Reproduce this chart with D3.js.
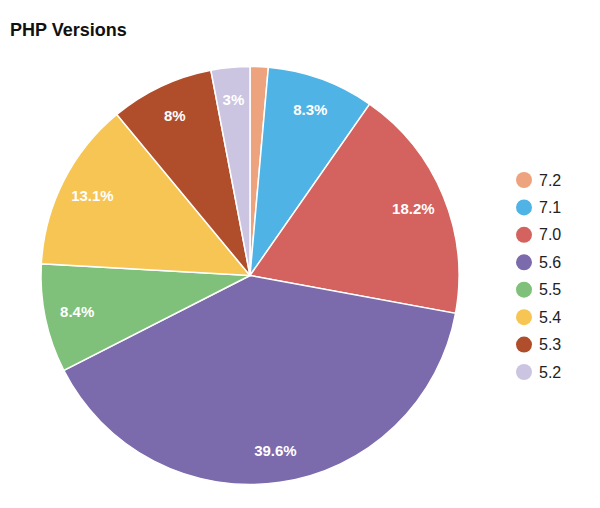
<!DOCTYPE html>
<html><head><meta charset="utf-8">
<script src="https://cdn.jsdelivr.net/npm/d3@7"></script>
<style>body{margin:0;background:#fff;font-family:"Helvetica Neue",Helvetica,Arial,"Liberation Sans",sans-serif;}</style>
</head><body>
<svg id="c" width="600" height="508"></svg>
<script>
const categories = ["7.2","7.1","7.0","5.6","5.5","5.4","5.3","5.2"];
const values = [1.4, 8.3, 18.2, 39.6, 8.4, 13.1, 8, 3];
const labels = ["", "8.3%", "18.2%", "39.6%", "8.4%", "13.1%", "8%", "3%"];
const colors = ["#eda47e","#4fb3e6","#d4625e","#7b6aac","#7fc17a","#f6c553","#b04e2b","#cbc5e1"];

const svg = d3.select("#c");
const font = '"Liberation Sans", Arial, sans-serif';
svg.append("text").attr("x", 10).attr("y", 36).text("PHP Versions")
  .attr("font-family", font).attr("font-weight", "bold").attr("font-size", 18).attr("fill", "#111");

const cx = 250, cy = 275.5, r = 209;
const data = categories.map((c, i) => ({c, v: values[i], l: labels[i], col: colors[i]}));
const pie = d3.pie().value(d => d.v).sort(null);
const arc = d3.arc().innerRadius(0).outerRadius(r);
const labelArc = d3.arc().innerRadius(r * 0.845).outerRadius(r * 0.845);
const g = svg.append("g").attr("transform", `translate(${cx},${cy})`);
const arcs = pie(data);
g.selectAll("path").data(arcs).join("path")
  .attr("d", arc).attr("fill", d => d.data.col)
  .attr("stroke", "#fff").attr("stroke-width", 1.5);
g.selectAll("text").data(arcs).join("text")
  .attr("transform", d => `translate(${labelArc.centroid(d)})`)
  .attr("text-anchor", "middle").attr("dy", "0.35em")
  .attr("font-family", font).attr("font-weight", "bold").attr("font-size", 15)
  .attr("fill", "#fff").text(d => d.data.l);

const ly = d3.scalePoint().domain(categories).range([180, 372]);
const lg = svg.append("g");
lg.selectAll("circle").data(data).join("circle")
  .attr("cx", 524).attr("cy", d => ly(d.c)).attr("r", 8).attr("fill", d => d.col);
lg.selectAll("text").data(data).join("text")
  .attr("x", 539).attr("y", d => ly(d.c)).attr("dy", "0.35em")
  .attr("font-family", font).attr("font-size", 16).attr("fill", "#222").text(d => d.c);
</script>
</body></html>
